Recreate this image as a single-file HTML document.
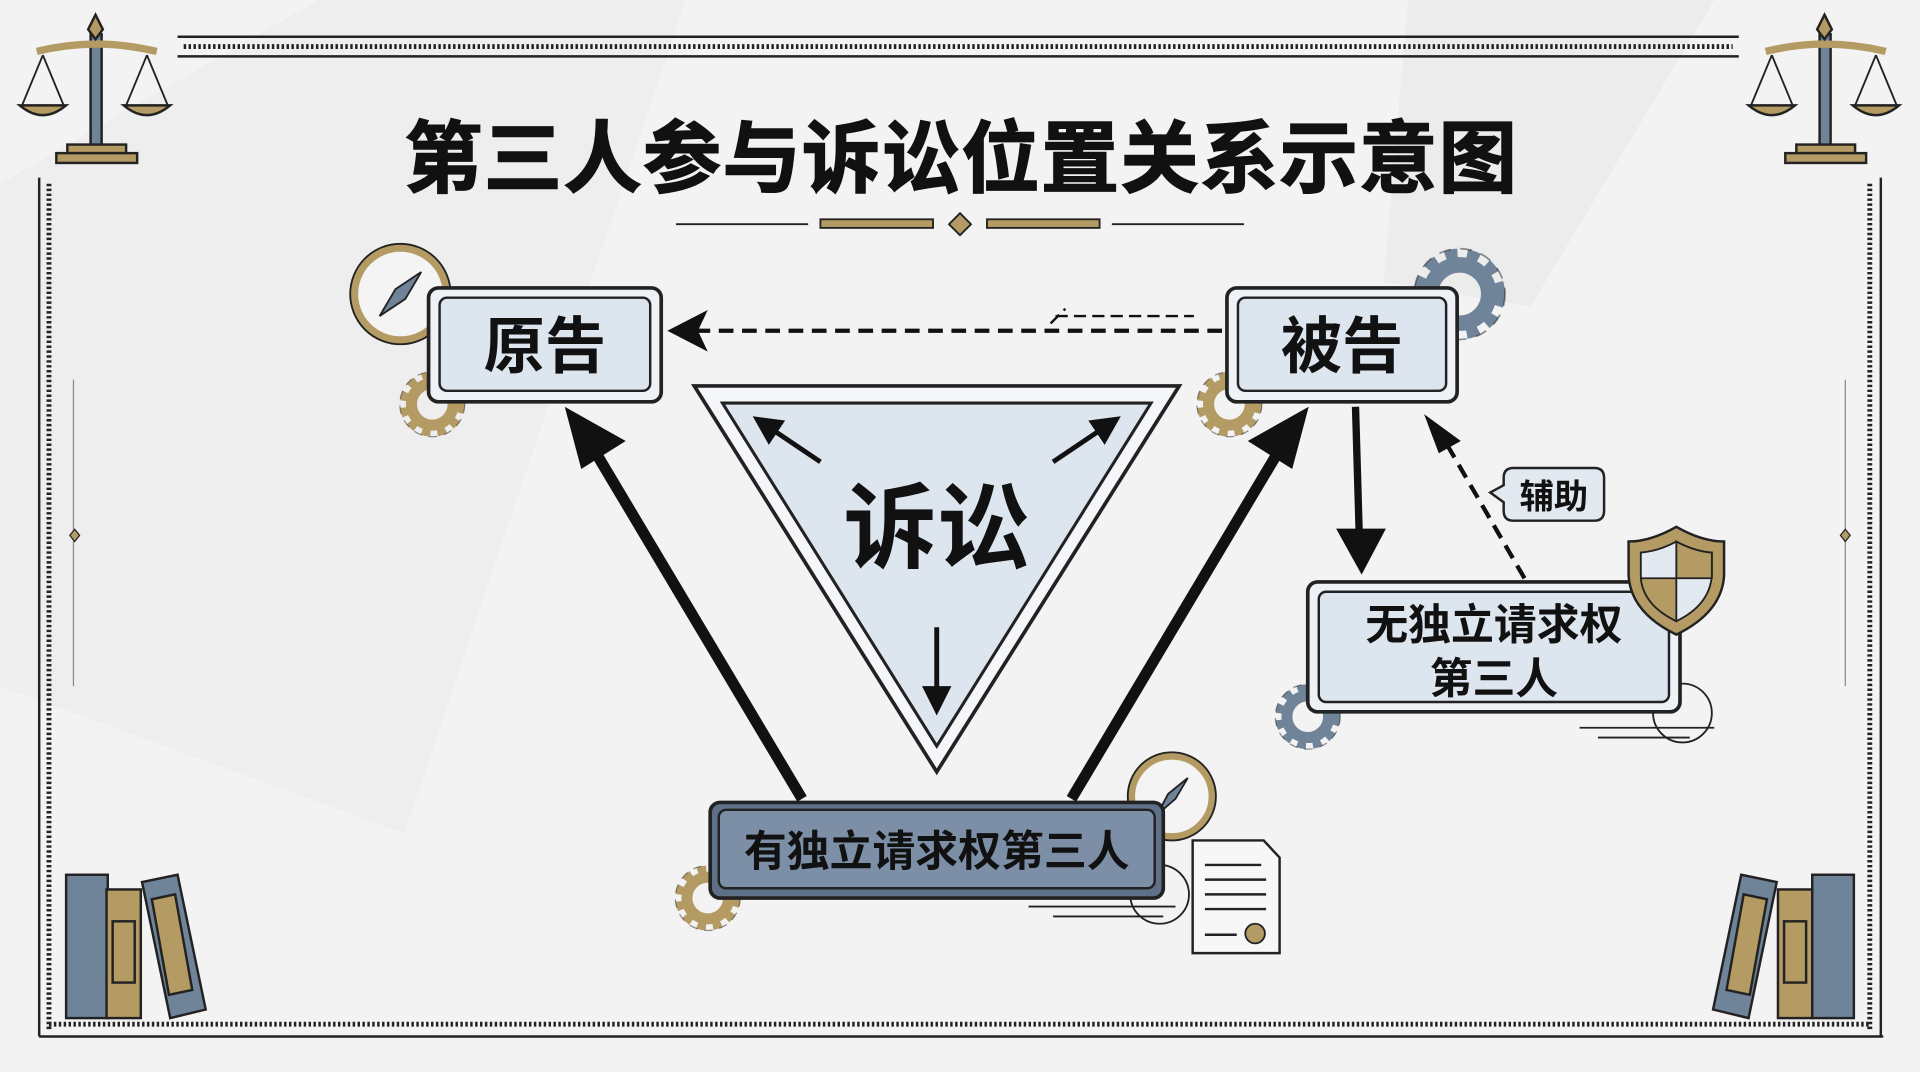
<!DOCTYPE html>
<html><head><meta charset="utf-8"><style>
html,body{margin:0;padding:0;background:#f2f2f2;}
svg{display:block}
text{font-family:"Liberation Sans","Noto Sans CJK SC",sans-serif;font-weight:bold;fill:#111}
</style></head><body>
<svg width="1920" height="1072" viewBox="0 0 1568 875" preserveAspectRatio="none" xmlns="http://www.w3.org/2000/svg">
<defs>
<marker id="ah" markerWidth="6" markerHeight="6" refX="5" refY="3" orient="auto" markerUnits="strokeWidth"><path d="M0,0 L6,3 L0,6 z" fill="#111"/></marker>
<g id="gear"><circle r="17" fill="none" stroke="currentColor" stroke-width="9"/><circle r="23" fill="none" stroke="currentColor" stroke-width="7" stroke-dasharray="7 5.5"/><circle r="26.5" fill="none" stroke="#222" stroke-width="1" stroke-dasharray="7 5.5" opacity=".5"/></g>
</defs>
<rect width="1568" height="875" fill="#f3f3f3"/>
<path d="M0,150 L260,0 L560,0 L330,680 L0,560z" fill="#ebebeb" opacity=".6"/>
<path d="M1150,0 L1400,0 L1250,250 L1130,230z" fill="#e8e8e8" opacity=".6"/>
<g stroke="#222" fill="none">
<line x1="145" y1="30" x2="1420" y2="30" stroke-width="2"/>
<line x1="150" y1="38" x2="1415" y2="38" stroke-width="4" stroke-dasharray="2 2"/>
<line x1="145" y1="46" x2="1420" y2="46" stroke-width="2"/>
<line x1="32" y1="145" x2="32" y2="846" stroke-width="2"/>
<line x1="40" y1="150" x2="40" y2="840" stroke-width="4" stroke-dasharray="2 2"/>
<line x1="32" y1="846" x2="1538" y2="846" stroke-width="2"/>
<line x1="40" y1="836" x2="1528" y2="836" stroke-width="4" stroke-dasharray="2 2"/>
<line x1="1536" y1="145" x2="1536" y2="846" stroke-width="2"/>
<line x1="1527" y1="150" x2="1527" y2="840" stroke-width="4" stroke-dasharray="2 2"/>
<line x1="60" y1="310" x2="60" y2="560" stroke-width="1" opacity=".5"/>
<line x1="1507" y1="310" x2="1507" y2="560" stroke-width="1" opacity=".5"/>
</g>
<path d="M61,432 l4,5 -4,5 -4,-5z M1507,432 l4,5 -4,5 -4,-5z" fill="#b49a63" stroke="#222"/>
<g id="scale" stroke="#222" stroke-width="2">
<rect x="74" y="28" width="9" height="92" fill="#6f8399"/>
<path d="M30,42 Q78,30 128,42" fill="none" stroke="#b49a63" stroke-width="6"/>
<path d="M78,12 l6,12 -6,8 -6,-8z" fill="#b49a63"/>
<path d="M35,45 L18,86 M35,45 L52,86 M120,45 L103,86 M120,45 L137,86" fill="none" stroke-width="1.5"/>
<path d="M16,86 L54,86 Q35,102 16,86z M101,86 L139,86 Q120,102 101,86z" fill="#b49a63"/>
<rect x="55" y="118" width="48" height="7" fill="#b49a63"/>
<rect x="46" y="125" width="66" height="8" fill="#b49a63"/>
</g>
<use href="#scale" x="1412" y="0"/>
<text x="785" y="152" font-size="64" text-anchor="middle" font-weight="900" stroke="#111" stroke-width="1.2" letter-spacing="1">第三人参与诉讼位置关系示意图</text>
<g stroke="#222" stroke-width="1.5">
<line x1="552" y1="183" x2="660" y2="183"/><line x1="908" y1="183" x2="1016" y2="183"/>
<rect x="670" y="179" width="92" height="7" fill="#b49a63"/><rect x="806" y="179" width="92" height="7" fill="#b49a63"/>
<path d="M784,174 l9,9 -9,9 -9,-9z" fill="#b49a63"/>
</g>
<g color="#b49a63"><use href="#gear" x="353" y="330"/><use href="#gear" x="1004" y="330"/><use href="#gear" x="578" y="733"/></g>
<g color="#6f8399"><use href="#gear" x="1192" y="240" transform="translate(1192 240) scale(1.4) translate(-1192 -240)"/><use href="#gear" x="1068" y="585"/></g>
<circle cx="327" cy="240" r="38" fill="#f4f4f4" stroke="#b49a63" stroke-width="7"/><circle cx="327" cy="240" r="41" fill="none" stroke="#222" stroke-width="1.5"/>
<path d="M344,222 L331,244 L310,258 L323,236z" fill="#6f8399" stroke="#222" stroke-width="1.5"/>
<circle cx="957" cy="650" r="33" fill="#f4f4f4" stroke="#b49a63" stroke-width="6"/><circle cx="957" cy="650" r="36" fill="none" stroke="#222" stroke-width="1.5"/>
<path d="M970,635 L960,652 L945,665 L954,648z" fill="#6f8399" stroke="#222" stroke-width="1.5"/>
<circle cx="1374" cy="582" r="24" fill="none" stroke="#222" stroke-width="1.5"/>
<circle cx="947" cy="730" r="24" fill="none" stroke="#222" stroke-width="1.5"/>
<g stroke="#222" stroke-width="1.5"><line x1="1290" y1="594" x2="1400" y2="594"/><line x1="1305" y1="602" x2="1380" y2="602"/><line x1="840" y1="740" x2="960" y2="740"/><line x1="860" y1="748" x2="950" y2="748"/></g>
<path d="M974,686 L1032,686 L1045,700 L1045,778 L974,778z" fill="#f7f7f7" stroke="#222" stroke-width="2"/>
<g stroke="#222" stroke-width="2"><line x1="984" y1="706" x2="1030" y2="706"/><line x1="984" y1="718" x2="1034" y2="718"/><line x1="984" y1="730" x2="1034" y2="730"/><line x1="984" y1="742" x2="1034" y2="742"/><line x1="984" y1="763" x2="1010" y2="763"/></g>
<circle cx="1025" cy="762" r="8" fill="#b49a63" stroke="#222" stroke-width="1.5"/>
<g stroke="#222" stroke-width="2">
<rect x="54" y="714" width="34" height="117" fill="#6f8399"/><rect x="87" y="726" width="28" height="105" fill="#b49a63"/>
<rect x="92" y="752" width="18" height="50" fill="none"/>
<path d="M116,720 L145,714 L168,824 L139,831z" fill="#6f8399"/><path d="M124,734 L143,730 L157,808 L138,812z" fill="#b49a63"/>
<rect x="1480" y="714" width="34" height="117" fill="#6f8399"/><rect x="1452" y="726" width="28" height="105" fill="#b49a63"/>
<rect x="1457" y="752" width="18" height="50" fill="none"/>
<path d="M1422,714 L1451,720 L1428,831 L1399,824z" fill="#6f8399"/><path d="M1424,730 L1443,734 L1429,812 L1410,808z" fill="#b49a63"/>
</g>
<path d="M567,315 L963,315 L765,630z" fill="#f4f6f9" stroke="#222" stroke-width="3"/>
<path d="M590,329 L940,329 L765,609z" fill="#dde5ef" stroke="#222" stroke-width="2.5"/>
<text x="765" y="458" font-size="76" text-anchor="middle" font-weight="900">诉讼</text>
<g stroke="#111" stroke-width="4" marker-end="url(#ah)">
<line x1="670" y1="377" x2="618" y2="342"/><line x1="860" y1="377" x2="912" y2="342"/><line x1="765" y1="512" x2="765" y2="580"/>
</g>
<g stroke="#111" fill="#111">
<line x1="655" y1="652" x2="488" y2="372" stroke-width="9"/>
<path d="M462,333 L510,360 L475,382z"/>
<line x1="875" y1="652" x2="1042" y2="372" stroke-width="9"/>
<path d="M1068,333 L1055,382 L1020,360z"/>
<line x1="1107" y1="332" x2="1110" y2="435" stroke-width="6"/>
<path d="M1092,432 L1131,432 L1112,468z"/>
</g>
<line x1="998" y1="270" x2="570" y2="270" stroke="#111" stroke-width="3.5" stroke-dasharray="12 7"/>
<path d="M545,270 L578,253 L570,270 L578,287z" fill="#111"/>
<path d="M862,258 L975,258 M858,264 L870,252" stroke="#111" stroke-width="2" stroke-dasharray="10 5"/>
<line x1="1245" y1="472" x2="1180" y2="360" stroke="#111" stroke-width="3.5" stroke-dasharray="12 7"/>
<path d="M1163,338 L1193,360 L1175,370z" fill="#111"/>
<g stroke="#222">
<rect x="350" y="235" width="190" height="93" rx="8" fill="#eef1f5" stroke-width="3"/>
<rect x="359" y="243" width="172" height="76" rx="6" fill="#dde5ef" stroke-width="2"/>
<rect x="1002" y="235" width="188" height="93" rx="8" fill="#eef1f5" stroke-width="3"/>
<rect x="1011" y="243" width="170" height="76" rx="6" fill="#dde5ef" stroke-width="2"/>
<rect x="1068" y="475" width="304" height="106" rx="8" fill="#eef1f5" stroke-width="3"/>
<rect x="1077" y="483" width="286" height="90" rx="6" fill="#dde5ef" stroke-width="2"/>
<rect x="580" y="655" width="370" height="78" rx="8" fill="#5f7188" stroke-width="3"/>
<rect x="587" y="661" width="356" height="64" rx="6" fill="#7c8fa6" stroke-width="2"/>
<path d="M1236,382 L1302,382 Q1310,382 1310,390 L1310,417 Q1310,425 1302,425 L1236,425 Q1228,425 1228,417 L1228,410 L1217,402 L1228,396 L1228,390 Q1228,382 1236,382z" fill="#e3e9f1" stroke-width="2"/>
</g>
<text x="445" y="300" font-size="50" text-anchor="middle" font-weight="900">原告</text>
<text x="1096" y="300" font-size="50" text-anchor="middle" font-weight="900">被告</text>
<text x="1220" y="522" font-size="35" text-anchor="middle">无独立请求权</text>
<text x="1220" y="566" font-size="35" text-anchor="middle">第三人</text>
<text x="765" y="707" font-size="35" text-anchor="middle">有独立请求权第三人</text>
<text x="1269" y="415" font-size="28" text-anchor="middle">辅助</text>
<path d="M1369,430 Q1390,442 1408,442 L1408,470 Q1406,500 1369,518 Q1332,500 1330,470 L1330,442 Q1348,442 1369,430z" fill="#b49a63" stroke="#222" stroke-width="2"/>
<path d="M1369,442 Q1384,450 1398,451 L1398,470 Q1396,494 1369,507 Q1342,494 1340,470 L1340,451 Q1354,450 1369,442z" fill="#e3e9f1" stroke="#222" stroke-width="1.5"/>
<path d="M1369,442 Q1384,450 1398,451 L1398,472 L1369,472z M1340,472 L1369,472 L1369,507 Q1342,494 1340,472z" fill="#b49a63" stroke="#222" stroke-width="1.5"/>
</svg>
</body></html>
